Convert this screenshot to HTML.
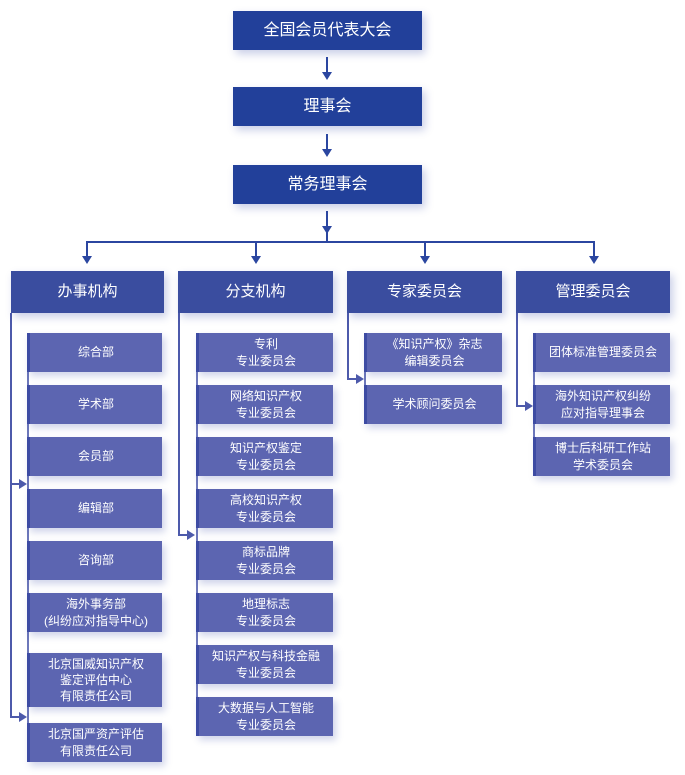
<!DOCTYPE html>
<html><head><meta charset="utf-8"><style>
*{margin:0;padding:0;box-sizing:border-box}
body{width:685px;height:775px;background:#fff;position:relative;overflow:hidden;font-family:"Liberation Sans","Noto Sans CJK SC",sans-serif;color:#fff}
.b{position:absolute;display:flex;align-items:center;justify-content:center;text-align:center;line-height:1.35}
.top{background:#22409a;font-size:16px;box-shadow:3px 4px 8px rgba(40,60,160,.25)}
.h{background:#3a4d9f;font-size:15px;box-shadow:3px 4px 8px rgba(40,60,160,.25)}
.c{background:#5c65b1;font-size:12px;border-left:3px solid #3d4ba3;box-shadow:3px 4px 7px rgba(40,60,160,.22)}
.l{position:absolute;background:#4d5aab}
</style></head><body>
<div class="b top" style="left:233px;top:11px;width:189px;height:39px">全国会员代表大会</div>
<div class="b top" style="left:233px;top:87px;width:189px;height:39px">理事会</div>
<div class="b top" style="left:233px;top:165px;width:189px;height:39px">常务理事会</div>
<svg style="position:absolute;left:0;top:0" width="685" height="775">
<g stroke="#2b46a0" stroke-width="2" fill="none">
<line x1="327" y1="57" x2="327" y2="76"/><line x1="327" y1="134" x2="327" y2="153"/><line x1="327" y1="211" x2="327" y2="242"/>
<line x1="86" y1="242" x2="595" y2="242"/>
<line x1="87" y1="242" x2="87" y2="260"/><line x1="256" y1="242" x2="256" y2="260"/><line x1="425" y1="242" x2="425" y2="260"/><line x1="594" y1="242" x2="594" y2="260"/>
</g>
<g fill="#2b46a0">
<path d="M322,72 L332,72 L327,80Z"/><path d="M322,149 L332,149 L327,157Z"/><path d="M322,226 L332,226 L327,234Z"/>
<path d="M82,256 L92,256 L87,264Z"/><path d="M251,256 L261,256 L256,264Z"/><path d="M420,256 L430,256 L425,264Z"/><path d="M589,256 L599,256 L594,264Z"/>
</g>
<g stroke="#4d5aab" stroke-width="2" fill="none">
<polyline points="11,313 11,717 22,717"/><line x1="11" y1="484" x2="22" y2="484"/>
<polyline points="179,313 179,535 190,535"/>
<polyline points="348,313 348,379 359,379"/>
<polyline points="517,313 517,406 528,406"/>
</g>
<g fill="#4d5aab">
<path d="M19,479 L27,484 L19,489Z"/><path d="M19,712 L27,717 L19,722Z"/>
<path d="M187,530 L195,535 L187,540Z"/><path d="M356,374 L364,379 L356,384Z"/><path d="M525,401 L533,406 L525,411Z"/>
</g>
<g stroke="#3d4ba3" stroke-width="1.5"><line x1="28" y1="333" x2="28" y2="762"/><line x1="197" y1="333" x2="197" y2="736"/><line x1="365" y1="333" x2="365" y2="424"/><line x1="534" y1="333" x2="534" y2="476"/></g>
</svg>
<div class="b h" style="left:11px;top:271px;width:153px;height:42px">办事机构</div>
<div class="b h" style="left:178px;top:271px;width:155px;height:42px">分支机构</div>
<div class="b h" style="left:347px;top:271px;width:155px;height:42px">专家委员会</div>
<div class="b h" style="left:516px;top:271px;width:154px;height:42px">管理委员会</div>

<div class="b c" style="left:27px;top:333px;width:135px;height:39px">综合部</div>
<div class="b c" style="left:27px;top:385px;width:135px;height:39px">学术部</div>
<div class="b c" style="left:27px;top:437px;width:135px;height:39px">会员部</div>
<div class="b c" style="left:27px;top:489px;width:135px;height:39px">编辑部</div>
<div class="b c" style="left:27px;top:541px;width:135px;height:39px">咨询部</div>
<div class="b c" style="left:27px;top:593px;width:135px;height:39px">海外事务部<br>(纠纷应对指导中心)</div>
<div class="b c" style="left:27px;top:653px;width:135px;height:54px">北京国威知识产权<br>鉴定评估中心<br>有限责任公司</div>
<div class="b c" style="left:27px;top:723px;width:135px;height:39px">北京国严资产评估<br>有限责任公司</div>

<div class="b c" style="left:196px;top:333px;width:137px;height:39px">专利<br>专业委员会</div>
<div class="b c" style="left:196px;top:385px;width:137px;height:39px">网络知识产权<br>专业委员会</div>
<div class="b c" style="left:196px;top:437px;width:137px;height:39px">知识产权鉴定<br>专业委员会</div>
<div class="b c" style="left:196px;top:489px;width:137px;height:39px">高校知识产权<br>专业委员会</div>
<div class="b c" style="left:196px;top:541px;width:137px;height:39px">商标品牌<br>专业委员会</div>
<div class="b c" style="left:196px;top:593px;width:137px;height:39px">地理标志<br>专业委员会</div>
<div class="b c" style="left:196px;top:645px;width:137px;height:39px">知识产权与科技金融<br>专业委员会</div>
<div class="b c" style="left:196px;top:697px;width:137px;height:39px">大数据与人工智能<br>专业委员会</div>

<div class="b c" style="left:364px;top:333px;width:138px;height:39px">《知识产权》杂志<br>编辑委员会</div>
<div class="b c" style="left:364px;top:385px;width:138px;height:39px">学术顾问委员会</div>

<div class="b c" style="left:533px;top:333px;width:137px;height:39px">团体标准管理委员会</div>
<div class="b c" style="left:533px;top:385px;width:137px;height:39px">海外知识产权纠纷<br>应对指导理事会</div>
<div class="b c" style="left:533px;top:437px;width:137px;height:39px">博士后科研工作站<br>学术委员会</div>
</body></html>
